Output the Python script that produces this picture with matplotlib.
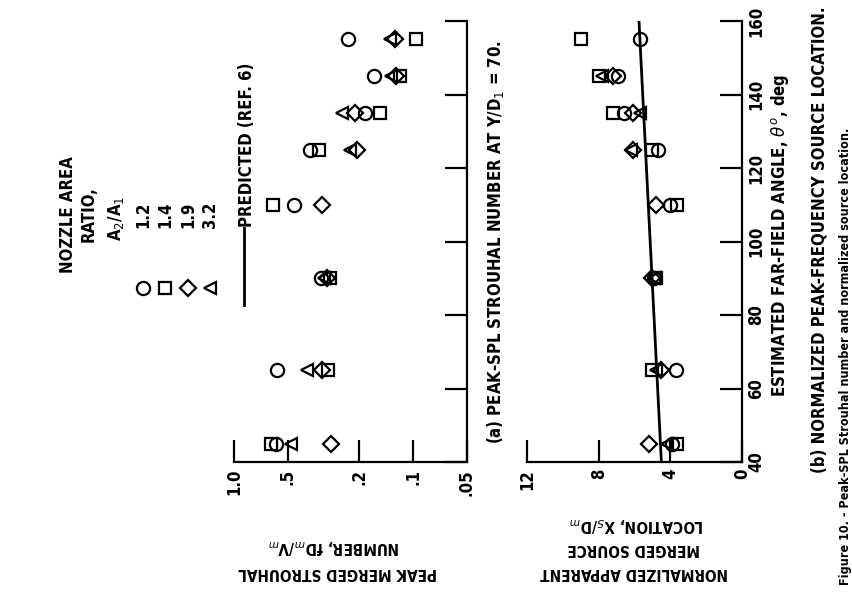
import numpy as np
import matplotlib
matplotlib.use("Agg")
import matplotlib.pyplot as plt
from matplotlib.lines import Line2D

W, H = 853, 596
FONT = dict(fontfamily='DejaVu Sans', fontstretch='condensed', fontweight='bold')
FS = 12

# far-field angle, deg
angles = [45, 65, 90, 110, 125, 135, 145, 155]

# (a) peak-SPL Strouhal number fDm/Vm
strouhal_12 = [0.585, 0.578, 0.327, 0.464, 0.375, 0.185, 0.165, 0.232]
strouhal_14 = [0.624, 0.298, 0.292, 0.605, 0.337, 0.153, 0.118, 0.096]
strouhal_19 = [0.289, 0.322, 0.303, 0.323, 0.206, 0.211, 0.125, 0.126]
strouhal_32 = [0.483, 0.390, 0.315, np.nan, 0.225, 0.250, 0.133, 0.135]

# (b) normalized apparent source location Xs/Dm
source_12 = [3.9, 3.7, 4.9, 4.0, 4.7, 6.6, 6.9, 5.7]
source_14 = [3.6, 5.0, 4.8, 3.6, 5.0, 7.2, 8.0, 9.0]
source_19 = [5.2, 4.5, 5.0, 4.8, 6.1, 6.1, 7.2, np.nan]
source_32 = [4.2, 4.8, 4.9, np.nan, 6.2, 5.7, 7.8, np.nan]

# predicted (ref. 6)
pred_angle = [40, 160]
pred_source = [4.5, 5.75]

ratios = ['1.2', '1.4', '1.9', '3.2']
markers = ['o', 's', 'D', '<']
msizes = [9.5, 9, 7.8, 9]

strouhal_ticks = [1.0, 0.5, 0.2, 0.1, 0.05]
strouhal_labels = ['1.0', '.5', '.2', '.1', '.05']
source_ticks = [12, 8, 4, 0]
angle_ticks = [40, 60, 80, 100, 120, 140, 160]


def fx(x):
    return x / W


def fy(y):
    return 1 - y / H


def txt(x, y, s, rot=90, **kw):
    kw.setdefault('ha', 'center')
    kw.setdefault('va', 'center')
    fig.text(fx(x), fy(y), s, rotation=rot, rotation_mode='anchor',
             fontsize=kw.pop('fs', FS), **FONT, **kw)


def style_axes(ax):
    for side in ['top', 'left']:
        ax.spines[side].set_visible(False)
    for side in ['bottom', 'right']:
        ax.spines[side].set_linewidth(1.6)
    ax.yaxis.tick_right()
    ax.set_ylim(40, 160)
    ax.set_yticks(angle_ticks)
    ax.tick_params(axis='both', which='major', direction='in', length=16, width=1.6)
    ax.tick_params(axis='x', which='minor', length=0)
    ax.patch.set_alpha(0)


fig = plt.figure(figsize=(W / 100, H / 100), dpi=100)

ax_a = fig.add_axes([fx(234), fy(462), fx(467) - fx(234), fy(21) - fy(462)])
ax_b = fig.add_axes([fx(527), fy(462), fx(742) - fx(527), fy(21) - fy(462)])

strouhal = [strouhal_12, strouhal_14, strouhal_19, strouhal_32]
source = [source_12, source_14, source_19, source_32]

for vals, m, ms in zip(strouhal, markers, msizes):
    ax_a.plot(vals, angles, ls='none', marker=m, ms=ms, mfc='none', mec='black', mew=1.6, clip_on=False)
for vals, m, ms in zip(source, markers, msizes):
    ax_b.plot(vals, angles, ls='none', marker=m, ms=ms, mfc='none', mec='black', mew=1.6, clip_on=False)
ax_b.plot(pred_source, pred_angle, color='black', lw=2.0)

ax_a.set_xscale('log')
ax_a.set_xlim(1.0, 0.05)
style_axes(ax_a)
ax_a.set_xticks(strouhal_ticks)
ax_a.set_xticklabels(strouhal_labels, rotation=90, fontsize=FS, **FONT)
ax_a.tick_params(axis='x', pad=5)
ax_a.set_yticklabels([])

ax_b.set_xlim(12, 0)
style_axes(ax_b)
ax_b.set_xticks(source_ticks)
ax_b.set_xticklabels([str(t) for t in source_ticks], rotation=90, fontsize=FS, **FONT)
ax_b.tick_params(axis='x', pad=5)
ax_b.set_yticklabels([str(t) for t in angle_ticks], rotation=90, va='center', fontsize=FS, **FONT)
ax_b.tick_params(axis='y', pad=4)

# legend block
txt(68, 215, 'NOZZLE AREA')
txt(89, 214, 'RATIO,')
txt(116, 218, r'A$_2$/A$_1$')
for i, (r, m, ms) in enumerate(zip(ratios, markers, msizes)):
    x = 143 + i * 22.5
    txt(x, 215, r)
    fig.add_artist(Line2D([fx(x)], [fy(288)], ls='none', marker=m, ms=ms, mfc='none',
                          mec='black', mew=1.6))
fig.add_artist(Line2D([fx(244), fx(244)], [fy(305), fy(228)], color='black', lw=2.0))
txt(247, 227, 'PREDICTED (REF. 6)', ha='left')

# panel titles and axis labels
txt(496, 242, r'(a) PEAK-SPL STROUHAL NUMBER AT Y/D$_1$ = 70.')
txt(780, 235, r'ESTIMATED FAR-FIELD ANGLE, $\theta^{o}$, deg')
txt(820, 240, '(b) NORMALIZED PEAK-FREQUENCY SOURCE LOCATION.')
txt(338, 572, 'PEAK MERGED STROUHAL', rot=180, fs=11)
txt(334, 546, r'NUMBER, fD$_m$/V$_m$', rot=180, fs=11)
txt(634, 573, 'NORMALIZED APPARENT', rot=180, fs=11)
txt(634, 549, 'MERGED SOURCE', rot=180, fs=11)
txt(637, 524, r'LOCATION, X$_S$/D$_m$', rot=180, fs=11)

# figure caption along the right edge
txt(846, 585, 'Figure 10. - Peak-SPL Strouhal number and normalized source location.', ha='left', fs=9)

fig.savefig('out.png', dpi=100)
